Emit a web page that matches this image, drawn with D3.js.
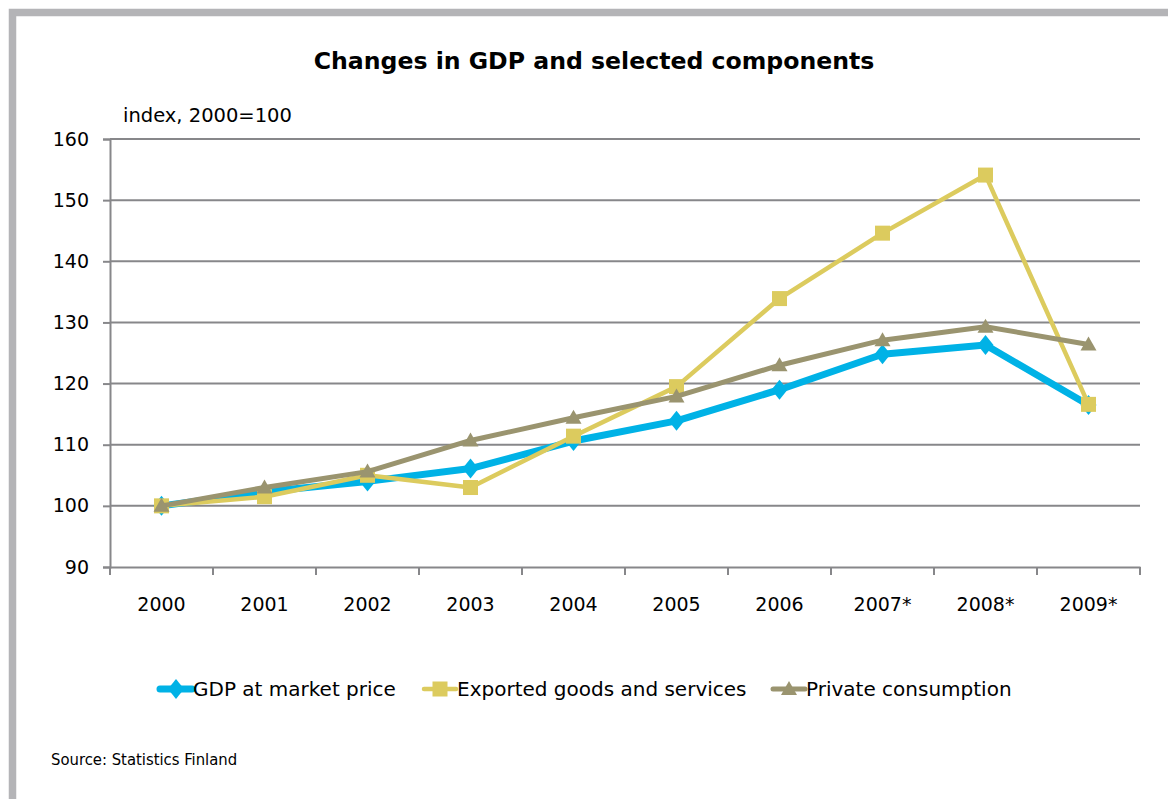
<!DOCTYPE html>
<html>
<head>
<meta charset="utf-8">
<script src="https://cdn.jsdelivr.net/npm/d3@7/dist/d3.min.js"></script>
<style>
  html, body { margin: 0; padding: 0; background: #fff; }
  svg { display: block; }
  text { font-family: "DejaVu Sans", "Noto Sans", sans-serif; fill: #000; }
</style>
</head>
<body>
<svg id="chart" width="1168" height="799"></svg>
<script>
// Index values, 2000 = 100
const years = ["2000", "2001", "2002", "2003", "2004", "2005", "2006", "2007*", "2008*", "2009*"];
const gdp = [100, 102.3, 104.0, 106.1, 110.6, 113.9, 119.0, 124.8, 126.3, 116.5];
const exportsIdx = [100, 101.5, 105.0, 103.0, 111.4, 119.5, 133.9, 144.6, 154.1, 116.6];
const privateCons = [100, 103.0, 105.6, 110.7, 114.4, 117.9, 123.0, 127.1, 129.3, 126.4];
const yTicks = [90, 100, 110, 120, 130, 140, 150, 160];
const seriesNames = ["GDP at market price", "Exported goods and services", "Private consumption"];

const series = [
  { name: seriesNames[0], values: gdp, color: "#00b2e6", width: 7, shape: "diamond" },
  { name: seriesNames[1], values: exportsIdx, color: "#dccb5e", width: 4.5, shape: "square" },
  { name: seriesNames[2], values: privateCons, color: "#9a946f", width: 5, shape: "triangle" }
];

const svg = d3.select("#chart");

// outer frame
svg.append("rect")
  .attr("x", 12.5).attr("y", 12.5)
  .attr("width", 1200).attr("height", 900)
  .attr("fill", "#fff")
  .attr("stroke", "#b4b4b7").attr("stroke-width", 7.5);

const plot = { left: 110, right: 1140, top: 139, bottom: 567 };

const x = d3.scaleBand().domain(years).range([plot.left, plot.right]);
const y = d3.scaleLinear().domain([90, 160]).range([plot.bottom, plot.top]);

// title
svg.append("text")
  .attr("x", 594).attr("y", 69)
  .attr("text-anchor", "middle")
  .attr("font-size", 23.6).attr("font-weight", "bold")
  .text("Changes in GDP and selected components");

svg.append("text")
  .attr("x", 123).attr("y", 122)
  .attr("font-size", 19.5)
  .text("index, 2000=100");

const grid = "#87878a";

// horizontal gridlines
svg.append("g")
  .selectAll("line")
  .data(yTicks.filter(t => t > 90))
  .join("line")
  .attr("x1", plot.left).attr("x2", plot.right)
  .attr("y1", d => y(d)).attr("y2", d => y(d))
  .attr("stroke", grid).attr("stroke-width", 2);

// y axis
const yAxis = svg.append("g")
  .attr("transform", `translate(${plot.left},0)`)
  .call(d3.axisLeft(y).tickValues(yTicks).tickSize(7).tickPadding(14));
yAxis.select(".domain").attr("stroke", grid).attr("stroke-width", 2);
yAxis.selectAll(".tick line").attr("stroke", grid).attr("stroke-width", 2);
yAxis.selectAll(".tick text").attr("font-size", 19).attr("font-family", null).attr("fill", "#000");

// x axis: ticks between categories
const xAxis = svg.append("g")
  .attr("transform", `translate(0,${plot.bottom})`)
  .call(d3.axisBottom(x).tickSize(0).tickPadding(31));
xAxis.select(".domain").attr("stroke", grid).attr("stroke-width", 2);
xAxis.selectAll(".tick text").attr("font-size", 19).attr("font-family", null).attr("fill", "#000");
xAxis.append("g")
  .selectAll("line")
  .data(years.map(d => x(d)).concat([plot.right]))
  .join("line")
  .attr("x1", d => d).attr("x2", d => d)
  .attr("y1", 0).attr("y2", 8)
  .attr("stroke", grid).attr("stroke-width", 2);

const cx = d => x(d) + x.bandwidth() / 2;

function marker(sel, shape, color) {
  if (shape === "diamond") {
    sel.append("path").attr("d", "M0,-10L8,0L0,10L-8,0Z").attr("fill", color);
  } else if (shape === "square") {
    sel.append("rect").attr("x", -7.5).attr("y", -7.5).attr("width", 15).attr("height", 15).attr("fill", color);
  } else {
    sel.append("path").attr("d", "M0,-8L8,6L-8,6Z").attr("fill", color);
  }
}

const line = d3.line().x(d => cx(d.year)).y(d => y(d.value));

series.forEach(s => {
  const pts = years.map((yr, i) => ({ year: yr, value: s.values[i] }));
  svg.append("path")
    .datum(pts)
    .attr("d", line)
    .attr("fill", "none")
    .attr("stroke", s.color)
    .attr("stroke-width", s.width)
    .attr("stroke-linejoin", "round");
  svg.append("g")
    .selectAll("g")
    .data(pts)
    .join("g")
    .attr("transform", d => `translate(${cx(d.year)},${y(d.value)})`)
    .each(function () { marker(d3.select(this), s.shape, s.color); });
});

// legend
const legendX = [160, 424, 773];
const legend = svg.append("g");
series.forEach((s, i) => {
  const g = legend.append("g").attr("transform", `translate(${legendX[i]},689)`);
  g.append("line").attr("x1", 0).attr("x2", 32).attr("y1", 0).attr("y2", 0)
    .attr("stroke", s.color).attr("stroke-width", s.width).attr("stroke-linecap", "round");
  const m = g.append("g").attr("transform", "translate(16,0)");
  marker(m, s.shape, s.color);
  g.append("text").attr("x", 33).attr("y", 7)
    .attr("font-size", 20)
    .text(s.name);
});

svg.append("text")
  .attr("x", 51).attr("y", 765)
  .attr("font-size", 16.5)
  .style("font-family", "'DejaVu Sans Condensed', 'DejaVu Sans', sans-serif")
  .style("font-stretch", "condensed")
  .text("Source:  Statistics Finland");
</script>
</body>
</html>
